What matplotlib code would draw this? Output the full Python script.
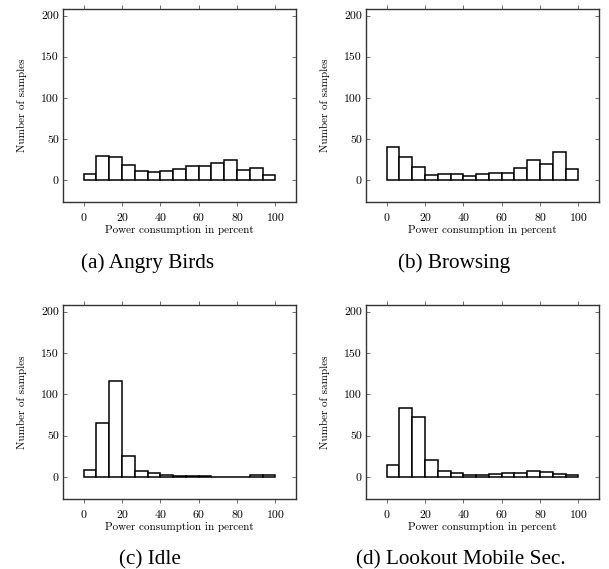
import numpy as np
import matplotlib
matplotlib.use("Agg")
import matplotlib.pyplot as plt

# Histogram counts, 15 equal bins between 0 and 100 percent
angry_birds = [7, 29, 28, 18, 11, 10, 11, 14, 17, 17, 21, 24, 12, 15, 6]
browsing = [40, 28, 16, 6, 8, 7, 5, 8, 9, 9, 15, 24, 20, 34, 13]
idle = [9, 65, 116, 26, 7, 5, 2, 1, 1, 1, 0.5, 0.5, 0.5, 2, 2]
lookout = [14, 83, 73, 21, 7, 5, 3, 2, 4, 5, 5, 7, 6, 4, 3]

panels = [
    (angry_birds, "(a) Angry Birds"),
    (browsing, "(b) Browsing"),
    (idle, "(c) Idle"),
    (lookout, "(d) Lookout Mobile Sec."),
]

x_ticks = [0, 20, 40, 60, 80, 100]
y_ticks = [0, 50, 100, 150, 200]

W, H = 609, 569
# axes boxes in pixels: left, top, right, bottom
boxes = [
    (63, 9, 296, 202),
    (366, 9, 599, 202),
    (63, 305, 296, 499),
    (366, 305, 599, 499),
]
# caption centre x and baseline y, pixels
captions_xy = [(148, 268), (454, 268), (150, 564), (461, 564)]

fig = plt.figure(figsize=(W / 100, H / 100), dpi=100)
edges = np.linspace(0, 100, 16)
tick_font = dict(family="cmr10", size=8.5)

for (counts, caption), (l, t, r, b), (cx, cy) in zip(panels, boxes, captions_xy):
    ax = fig.add_axes([l / W, 1 - b / H, (r - l) / W, (b - t) / H])
    ax.bar(edges[:-1], counts, width=np.diff(edges), align="edge",
           facecolor="white", edgecolor="black", linewidth=1.1)
    ax.set_xlim(-10.7, 110.7)
    ax.set_ylim(-26.5, 208)
    ax.set_xticks(x_ticks)
    ax.set_yticks(y_ticks)
    ax.set_xticklabels([str(v) for v in x_ticks], fontdict=tick_font)
    ax.set_yticklabels([str(v) for v in y_ticks], fontdict=tick_font)
    ax.tick_params(axis="x", direction="out", top=True, bottom=True,
                   length=3, width=0.6, color="#555555", pad=5.5)
    ax.tick_params(axis="y", direction="in", left=True, right=True,
                   length=3, width=0.6, color="#555555", pad=3)
    for s in ax.spines.values():
        s.set_linewidth(1.0)
        s.set_color("#333333")
    ax.set_xlabel("Power consumption in percent", family="cmr10", size=8, labelpad=1)
    ax.set_ylabel("Number of samples", family="cmr10", size=8, labelpad=10)
    fig.text(cx / W, 1 - cy / H, caption, family="Liberation Serif", size=15.3,
             ha="center", va="baseline")

fig.savefig("out.png", dpi=100)
